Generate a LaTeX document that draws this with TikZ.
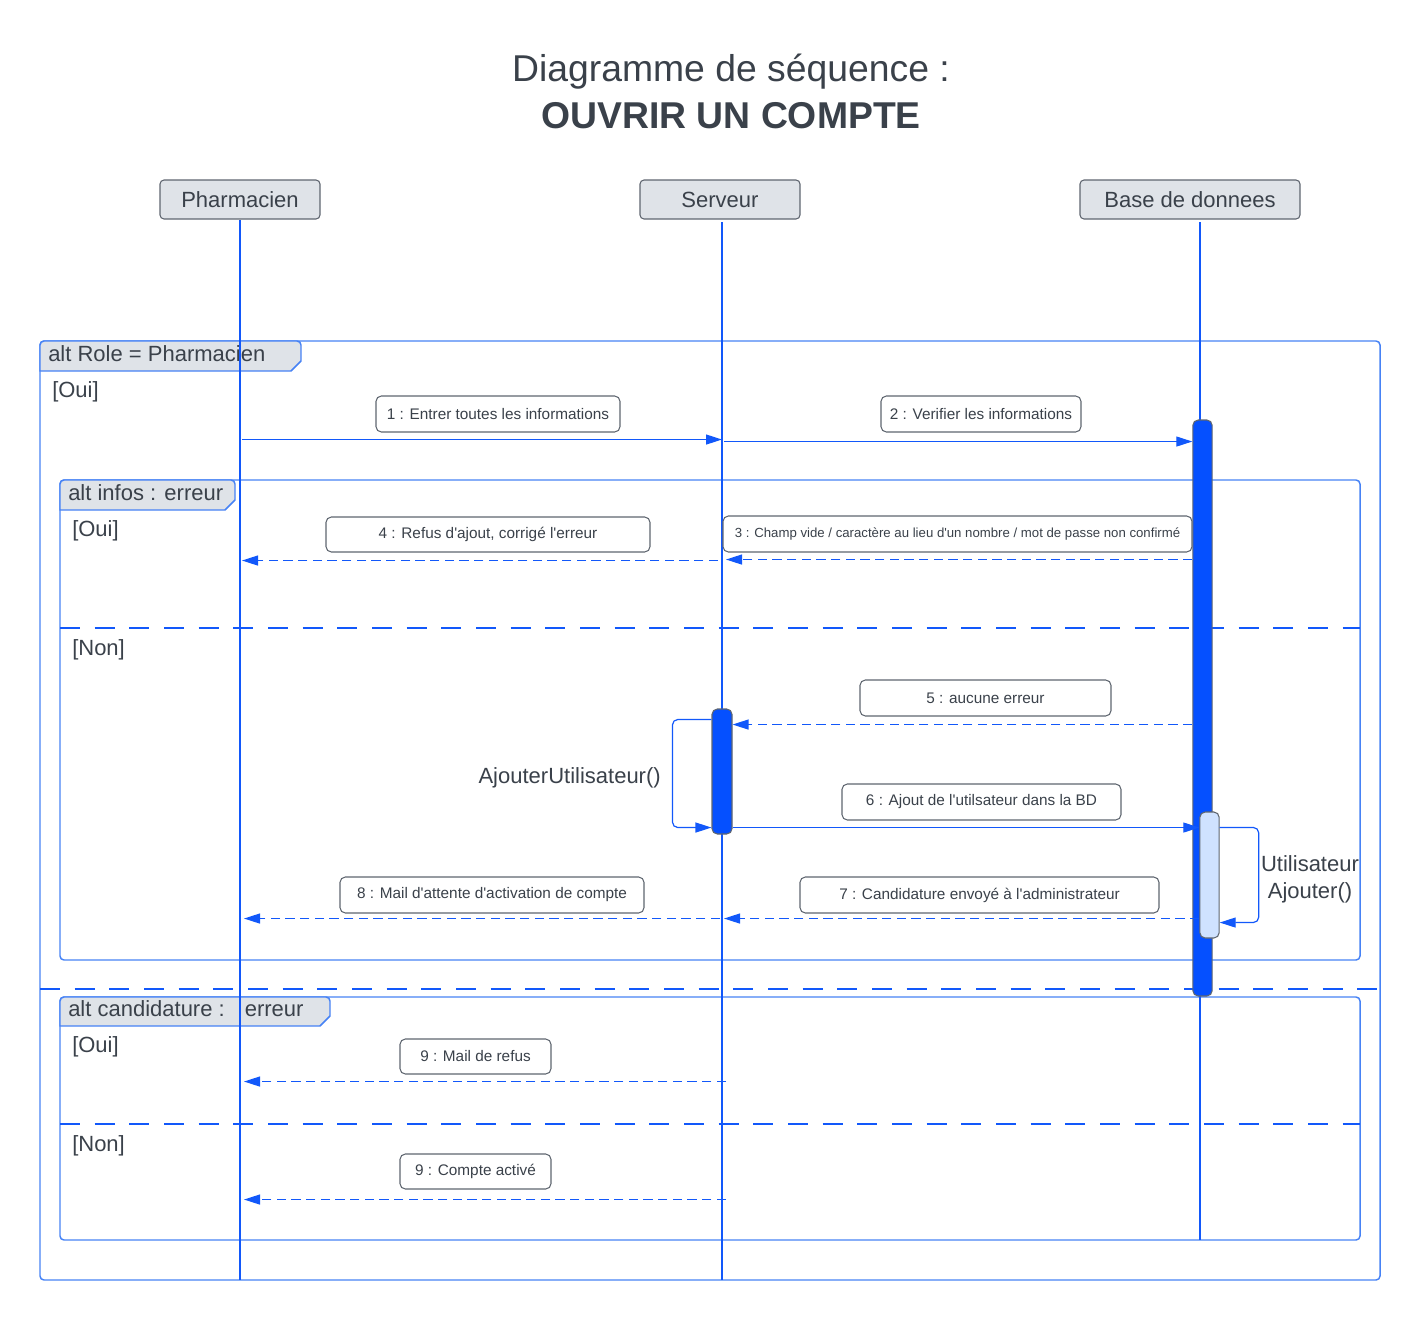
\documentclass[tikz,border=0pt]{standalone}
\usepackage{fontspec}
\setmainfont{Liberation Sans}
\usetikzlibrary{arrows.meta,calc}
\newcommand{\apq}{\textquotesingle}
\definecolor{lblue}{RGB}{18,88,250}
\definecolor{fblue}{RGB}{70,130,245}
\definecolor{barblue}{RGB}{5,80,255}
\definecolor{barlight}{RGB}{207,226,255}
\definecolor{headfill}{RGB}{223,227,232}
\definecolor{gborder}{RGB}{95,102,112}
\definecolor{txt}{RGB}{58,65,74}
\tikzset{
  head/.style={draw=gborder,fill=headfill,rounded corners=3pt,inner sep=0pt,line width=0.8pt,
    font=\fontsize{16.5}{20}\selectfont,text=txt},
  lbl/.style={draw=gborder,fill=white,rounded corners=4pt,inner sep=0pt,line width=0.8pt,
    font=\fontsize{11.5}{14}\selectfont,text=txt,minimum height=27pt},
  msg/.style={draw=lblue,line width=0.9pt,-{Triangle[length=12pt,width=7.5pt]}},
  ret/.style={msg,dash pattern=on 7pt off 4pt},
  lifeline/.style={draw=lblue,line width=0.9pt},
  frm/.style={draw=fblue,line width=1.1pt,rounded corners=3pt},
  tabst/.style={draw=fblue,fill=headfill,line width=1.1pt},
  sep/.style={draw=lblue,line width=0.9pt,dash pattern=on 15pt off 11pt},
  guard/.style={anchor=west,inner sep=0pt,font=\fontsize{16.5}{20}\selectfont,text=txt},
  bar/.style={draw=gborder,fill=barblue,rounded corners=4pt,inner sep=0pt,line width=0.8pt,minimum width=14.5pt},
  barl/.style={bar,fill=barlight}
}
\begin{document}
\begin{tikzpicture}[x=0.75pt,y=-0.75pt]
\useasboundingbox (0,0) rectangle (1420,1320);
% title
\node[text=txt,font=\fontsize{28}{34}\selectfont] (t1) at (731,72) {Diagramme de séquence :};
\node[text=txt,font=\fontsize{28}{34}\selectfont\bfseries] (t2) at (731,116) {OUVRIR UN COMPTE};
% frames
\draw[frm] (40,341) rectangle (1380,1280);
\path[tabst] (40,371) [rounded corners=3pt] -- (40,341) -- (301,341) [sharp corners] -- (301,361) -- (291,371) -- cycle;
\node[guard] (f1) at (48,354) {alt Role = Pharmacien};
\node[guard] (g1) at (52,392) {[Oui]};
\draw[sep] (40,989) -- (1380,989);
\draw[frm] (60,480) rectangle (1360,960);
\path[tabst] (60,510) [rounded corners=3pt] -- (60,480) -- (235,480) [sharp corners] -- (235,500) -- (225,510) -- cycle;
\node[guard] (f2) at (68,493) {alt infos : erreur};
\node[guard] (g2) at (72,531) {[Oui]};
\draw[sep] (60,628) -- (1360,628);
\node[guard] (g3) at (72,650) {[Non]};
\draw[frm] (60,997) rectangle (1360,1240);
\path[tabst] (60,1026) [rounded corners=3pt] -- (60,997) -- (330,997) [sharp corners] -- (330,1016) -- (320,1026) -- cycle;
\node[guard] (f3) at (68,1009) {alt candidature :\hspace{15pt}erreur};
\node[guard] (g4) at (72,1047) {[Oui]};
\draw[sep] (60,1124) -- (1360,1124);
\node[guard] (g5) at (72,1146) {[Non]};
% heads
\node[head,minimum width=120pt,minimum height=29.25pt] (ph) at (240,199.5) {Pharmacien};
\node[head,minimum width=120pt,minimum height=29.25pt] (srv) at (720,199.5) {Serveur};
\node[head,minimum width=165pt,minimum height=29.25pt] (db) at (1190,199.5) {Base de donnees};
\coordinate (Lph) at (240,220);
\coordinate (Lsrv) at (722,222);
\coordinate (Ldb) at (1200,222);
\coordinate (Eph) at (240,1280);
\coordinate (Esrv) at (722,1280);
\coordinate (Edb) at (1200,1240);
\draw[lifeline] (Lph) -- (Eph);
\draw[lifeline] (Lsrv) -- (Esrv);
\draw[lifeline] (Ldb) -- (Edb);
% activation bars
\node[bar,minimum height=432pt] (actDB) at (1202.5,708) {};
\node[bar,minimum width=15pt,minimum height=93.75pt] (actSrv) at (722,771.5) {};
\node[barl,minimum height=94.5pt] (actDB2) at (1209.5,875) {};
% labels
\node[lbl,minimum width=183pt] (l1) at (498,414) {1 : Entrer toutes les informations};
\node[lbl,minimum width=150pt] (l2) at (981,414) {2 : Verifier les informations};
\node[lbl,minimum width=351.75pt,font=\fontsize{9.9}{12}\selectfont] (l3) at (957.5,534) {3 : Champ vide / caractère au lieu d\apq un nombre / mot de passe non confirmé};
\node[lbl,minimum width=243pt,minimum height=26.25pt] (l4) at (488,534.5) {4 : Refus d\apq ajout, corrigé l\apq erreur};
\node[lbl,minimum width=188.25pt] (l5) at (985.5,698) {5 : aucune erreur};
\node[lbl,minimum width=209.25pt] (l6) at (981.5,802) {6 : Ajout de l\apq utilsateur dans la BD};
\node[lbl,minimum width=269.25pt] (l7) at (979.5,895) {7 : Candidature envoyé à l\apq administrateur};
\node[lbl,minimum width=228pt] (l8) at (492,895) {8 : Mail d\apq attente d\apq activation de compte};
\node[lbl,minimum width=113.25pt,minimum height=26.25pt] (l9a) at (475.5,1056.5) {9 : Mail de refus};
\node[lbl,minimum width=113.25pt,minimum height=26.25pt] (l9b) at (475.5,1171.5) {9 : Compte activé};
% messages
\draw[msg] ($(Lph |- l1.south)+(2,7)$) -- ($(Lsrv |- l1.south)+(0,7)$);
\draw[msg] ($(Lsrv |- l2.south)+(2,9)$) -- ($(actDB.west |- l2.south)+(0,9)$);
\draw[ret] ($(actDB.west |- l3.south)+(0,7)$) -- ($(Lsrv |- l3.south)+(4,7)$);
\draw[ret] ($(Lsrv |- l4.south)+(-4,8)$) -- ($(Lph |- l4.south)+(2,8)$);
\draw[ret] ($(actDB.west |- l5.south)+(0,8)$) -- ($(actSrv.east |- l5.south)+(0,8)$);
\draw[msg,rounded corners=4pt] ($(actSrv.north west)+(0,11)$) -- ++(-39,0) |- ($(actSrv.south west)+(0,-7)$);
\node[anchor=east,inner sep=0pt,font=\fontsize{16.5}{20}\selectfont,text=txt] (selfA) at (661,778) {AjouterUtilisateur()};
\draw[msg] ($(actSrv.east |- l6.south)+(0,7)$) -- ($(actDB2.west |- l6.south)+(0,7)$);
\draw[msg,rounded corners=4pt] ($(actDB2.north east)+(0,16)$) -- ++(39,0) |- ($(actDB2.south east)+(0,-16)$);
\node[align=center,inner sep=0pt,font=\fontsize{16.5}{20}\selectfont,text=txt] (selfB) at (1310,879) {Utilisateur\\Ajouter()};
\draw[ret] ($(actDB2.west |- l7.south)+(0,5)$) -- ($(Lsrv |- l7.south)+(2,5)$);
\draw[ret] ($(Lsrv |- l8.south)+(-2,5)$) -- ($(Lph |- l8.south)+(4,5)$);
\draw[ret] ($(Lsrv |- l9a.south)+(4,7)$) -- ($(Lph |- l9a.south)+(4,7)$);
\draw[ret] ($(Lsrv |- l9b.south)+(4,10)$) -- ($(Lph |- l9b.south)+(4,10)$);
\end{tikzpicture}
\end{document}
